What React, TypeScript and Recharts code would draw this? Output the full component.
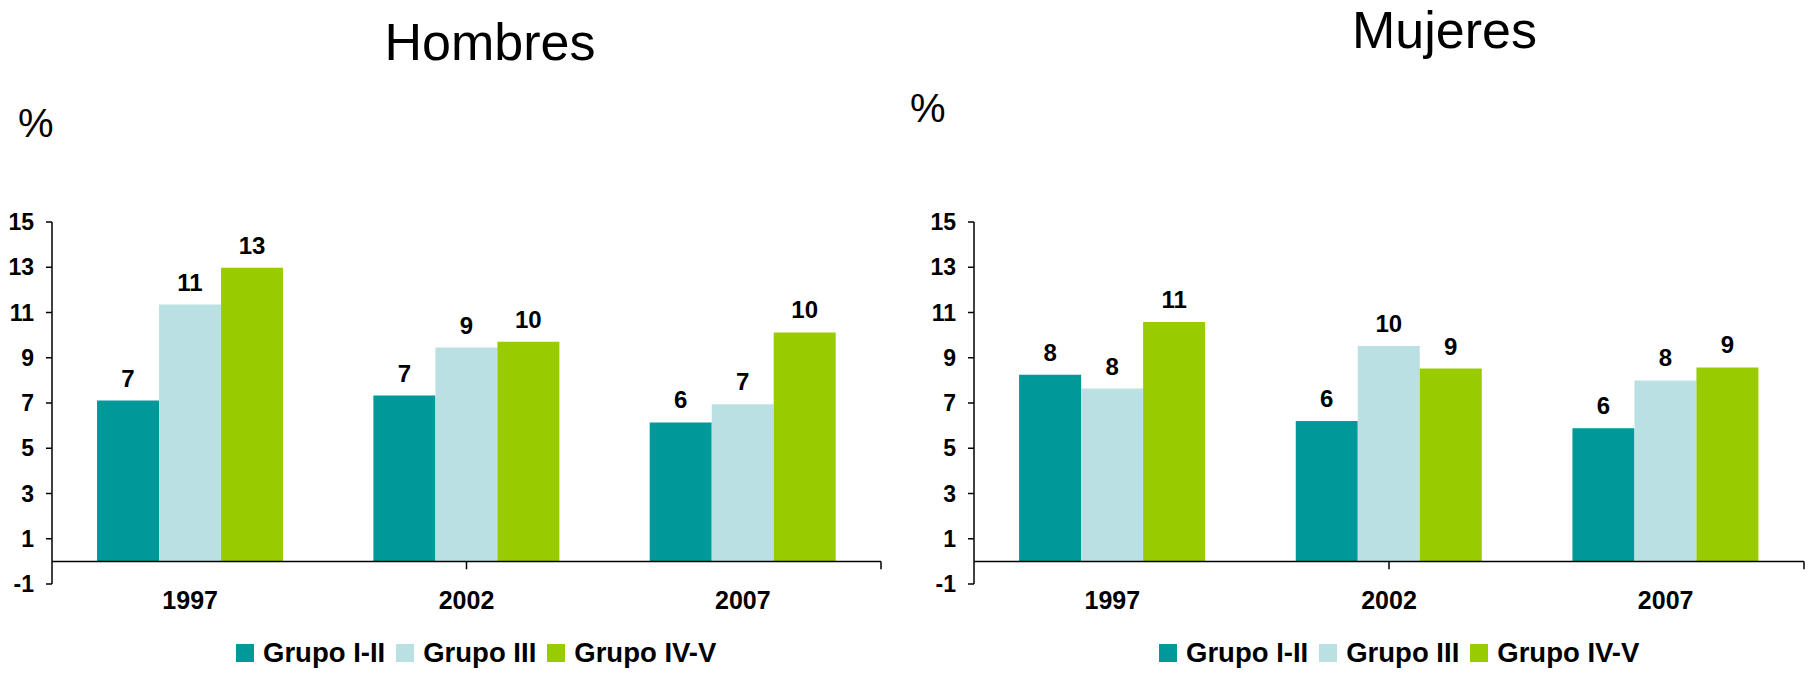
import React from 'react';
import { BarChart, Bar, XAxis, YAxis, ReferenceLine, LabelList, Legend } from 'recharts';

const FONT = '"Liberation Sans", Arial, sans-serif';

const years = ['1997', '2002', '2007'];
const seriesNames = ['Grupo I-II', 'Grupo III', 'Grupo IV-V'];
const seriesColors = ['#009999', '#BBE0E3', '#99CC00'];
const seriesKeys = ['g1', 'g2', 'g3'];

const hombresI = [7.11, 7.33, 6.14];
const hombresIII = [11.35, 9.45, 6.95];
const hombresIV = [12.98, 9.71, 10.12];

const mujeresI = [8.25, 6.2, 5.88];
const mujeresIII = [7.64, 9.52, 8.0];
const mujeresIV = [10.58, 8.52, 8.57];

const yTicks = [-1, 1, 3, 5, 7, 9, 11, 13, 15];
const boundaryTicks = [1, 2, 3];

const buildRows = (a: number[], b: number[], c: number[]) =>
  years.map((y, i) => ({ year: y, g1: a[i], g2: b[i], g3: c[i] }));

const hombresData = buildRows(hombresI, hombresIII, hombresIV);
const mujeresData = buildRows(mujeresI, mujeresIII, mujeresIV);

const renderLegend = (props: any) => {
  const payload = (props && props.payload) || [];
  return (
    <div
      style={{
        display: 'flex',
        alignItems: 'center',
        height: 28,
        fontFamily: FONT,
        fontWeight: 'bold',
        fontSize: 27.5,
        lineHeight: '28px',
        whiteSpace: 'nowrap',
        color: '#000',
      }}
    >
      {payload.map((p: any) => (
        <div key={p.value} style={{ display: 'flex', alignItems: 'center', marginRight: 11 }}>
          <span style={{ display: 'inline-block', width: 18, height: 18, background: p.color, marginRight: 9 }} />
          <span>{p.value}</span>
        </div>
      ))}
    </div>
  );
};

type PanelProps = {
  data: any[];
  left: number;
  width: number;
  yAxisWidth: number;
  marginRight: number;
  legendLeft: number;
};

const Panel = ({ data, left, width, yAxisWidth, marginRight, legendLeft }: PanelProps) => (
  <div style={{ position: 'absolute', left, top: 0, width, height: 677 }}>
    <BarChart
      width={width}
      height={677}
      data={data}
      margin={{ top: 222, right: marginRight, left: 0, bottom: 33 }}
      barCategoryGap="16.3%"
      barGap={0}
    >
      <XAxis
        dataKey="year"
        axisLine={false}
        tickLine={false}
        height={60}
        tickSize={6}
        tickMargin={1}
        interval={0}
        tick={{ fill: '#000', fontSize: 25, fontWeight: 'bold', fontFamily: FONT }}
      />
      <XAxis xAxisId="n" type="number" domain={[0, 3]} hide allowDataOverflow />
      <YAxis
        domain={[-1, 15]}
        ticks={yTicks}
        interval={0}
        width={yAxisWidth}
        tickSize={6}
        tickMargin={12}
        axisLine={{ stroke: '#000', strokeWidth: 1.5 }}
        tickLine={{ stroke: '#000', strokeWidth: 1.5 }}
        tick={{ fill: '#000', fontSize: 23, fontWeight: 'bold', fontFamily: FONT }}
      />
      {seriesKeys.map((k, i) => (
        <Bar key={k} dataKey={k} name={seriesNames[i]} fill={seriesColors[i]} isAnimationActive={false}>
          <LabelList
            dataKey={k}
            position="top"
            offset={14}
            formatter={(v: any) => Math.round(Number(v))}
            fill="#000"
            fontSize={24}
            fontWeight="bold"
            fontFamily={FONT}
          />
        </Bar>
      ))}
      <ReferenceLine y={0} stroke="#000" strokeWidth={1.5} ifOverflow="visible" />
      {boundaryTicks.map((b) => (
        <ReferenceLine
          key={b}
          xAxisId="n"
          segment={[{ x: b, y: 0 }, { x: b, y: -0.35 }]}
          stroke="#000"
          strokeWidth={1.5}
          ifOverflow="visible"
        />
      ))}
      <Legend
        layout="horizontal"
        verticalAlign="middle"
        align="center"
        content={renderLegend}
        wrapperStyle={{ top: 639, left: legendLeft, width: 620, height: 28, bottom: 'auto', right: 'auto' }}
      />
    </BarChart>
  </div>
);

export default function App() {
  return (
    <div style={{ position: 'absolute', left: 0, top: 0, width: 1810, height: 677, background: '#fff', overflow: 'hidden' }}>
      <Panel data={hombresData} left={0} width={900} yAxisWidth={52} marginRight={19} legendLeft={236} />
      <Panel data={mujeresData} left={900} width={910} yAxisWidth={74} marginRight={6} legendLeft={259} />
      <svg width={1810} height={677} style={{ position: 'absolute', left: 0, top: 0, pointerEvents: 'none' }}>
        <text x={490} y={60} textAnchor="middle" fontFamily={FONT} fontSize={52} fill="#000">Hombres</text>
        <text x={1444.5} y={48} textAnchor="middle" fontFamily={FONT} fontSize={52} fill="#000">Mujeres</text>
        <text x={18} y={137} fontFamily={FONT} fontSize={40} fill="#000">%</text>
        <text x={910} y={122} fontFamily={FONT} fontSize={40} fill="#000">%</text>
      </svg>
    </div>
  );
}
